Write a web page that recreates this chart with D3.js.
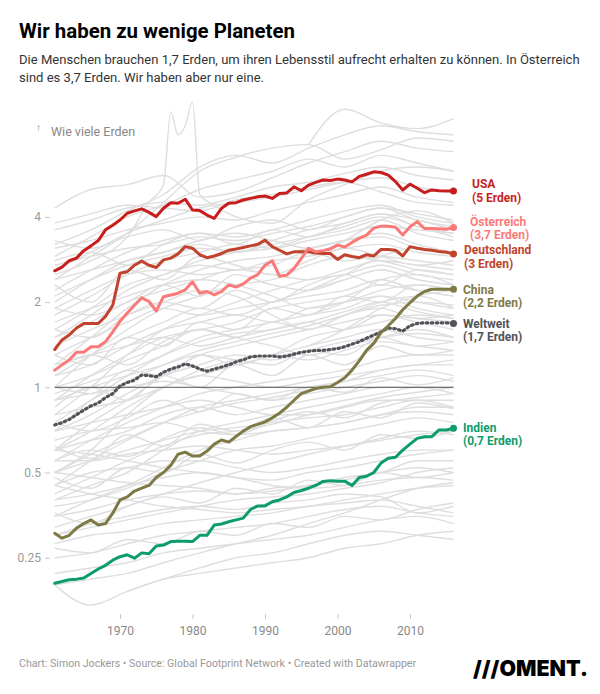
<!DOCTYPE html>
<html><head><meta charset="utf-8">
<script src="https://cdn.jsdelivr.net/npm/d3@7"></script>
<style>
html,body{margin:0;padding:0;background:#fff;}
svg{display:block;font-family:Roboto,"Noto Sans",sans-serif;}
</style></head>
<body><svg id="c" width="600" height="694"></svg>
<script>
// ---------- DATA ----------
const years = d3.range(1961, 2017);
const usa = [2.58,2.66,2.80,2.86,3.04,3.16,3.30,3.60,3.74,3.90,4.12,4.20,4.27,4.15,4.01,4.29,4.49,4.47,4.62,4.23,4.21,4.06,3.95,4.29,4.47,4.49,4.59,4.65,4.71,4.74,4.65,4.84,4.86,5.11,4.95,5.18,5.30,5.40,5.38,5.44,5.40,5.32,5.56,5.66,5.77,5.74,5.62,5.33,4.98,5.22,5.05,4.87,4.98,4.95,4.94,4.94];
const oesterreich = [1.15,1.20,1.25,1.33,1.33,1.39,1.39,1.45,1.57,1.71,1.83,1.95,2.07,2.01,1.86,2.09,2.12,2.15,2.21,2.36,2.15,2.18,2.12,2.18,2.30,2.26,2.32,2.43,2.50,2.70,2.80,2.47,2.49,2.63,2.85,3.10,3.01,3.04,3.08,3.18,3.13,3.25,3.36,3.45,3.65,3.71,3.71,3.68,3.45,3.69,3.85,3.64,3.64,3.63,3.62,3.67];
const deutschland = [1.36,1.47,1.53,1.62,1.68,1.68,1.68,1.78,1.95,2.53,2.56,2.70,2.79,2.70,2.65,2.82,2.86,2.96,3.14,3.10,2.94,2.87,2.91,2.97,3.05,3.08,3.12,3.16,3.20,3.31,3.14,3.05,2.96,3.01,3.01,3.01,2.98,2.97,2.97,2.83,2.94,2.90,2.87,2.94,2.91,3.07,3.07,3.05,2.91,3.14,3.10,3.07,3.05,3.02,3.00,2.96];
const china = [0.305,0.293,0.30,0.318,0.33,0.34,0.326,0.33,0.359,0.40,0.41,0.43,0.44,0.45,0.48,0.50,0.53,0.58,0.59,0.572,0.572,0.595,0.63,0.651,0.64,0.67,0.70,0.726,0.74,0.755,0.78,0.81,0.85,0.90,0.95,0.97,0.99,1.00,1.005,1.04,1.08,1.15,1.24,1.35,1.43,1.56,1.65,1.75,1.88,1.99,2.10,2.18,2.22,2.22,2.22,2.22];
const weltweit = [0.736,0.75,0.77,0.80,0.83,0.86,0.88,0.92,0.95,1.01,1.04,1.06,1.105,1.10,1.09,1.13,1.16,1.18,1.21,1.19,1.16,1.14,1.16,1.18,1.20,1.23,1.25,1.28,1.29,1.29,1.29,1.28,1.29,1.31,1.33,1.34,1.35,1.35,1.36,1.37,1.39,1.42,1.45,1.49,1.53,1.57,1.62,1.61,1.58,1.65,1.68,1.69,1.69,1.69,1.69,1.68];
const indien = [0.203,0.206,0.209,0.21,0.212,0.22,0.228,0.235,0.245,0.252,0.256,0.249,0.26,0.258,0.275,0.277,0.285,0.286,0.286,0.285,0.30,0.30,0.326,0.329,0.335,0.34,0.345,0.37,0.381,0.381,0.394,0.40,0.41,0.425,0.432,0.44,0.45,0.465,0.468,0.466,0.466,0.45,0.48,0.485,0.50,0.54,0.561,0.566,0.60,0.63,0.66,0.669,0.669,0.707,0.707,0.716];

const highlightNames = ["Weltweit","Indien","China","Deutschland","Österreich","USA"];
const highlightLabels = ["(1,7 Erden)","(0,7 Erden)","(2,2 Erden)","(3 Erden)","(3,7 Erden)","(5 Erden)"];

// other countries, sampled every 5 years
const grayYears = [1961,1966,1971,1976,1981,1986,1991,1996,2001,2006,2011,2016];
const grayCountries = [
[4.3,5.0,5.2,5.6,4.7,4.9,5.5,6.2,6.8,7.4,7.0,6.8],
[null,null,null,null,null,null,null,7.2,9.6,8.6,8.2,8.9],
[3.2,3.6,4.2,4.8,6.0,6.6,6.2,7.0,7.8,8.4,8.0,7.8],
[2.9,3.4,4.0,4.4,5.0,5.4,5.8,6.4,6.0,6.6,6.2,5.8],
[3.6,3.9,4.3,4.5,4.4,4.7,5.1,5.3,5.7,6.0,5.6,5.4],
[2.6,3.0,3.5,3.9,4.3,4.5,4.7,5.0,5.3,5.5,5.1,4.9],
[3.8,4.1,4.4,4.3,4.2,4.6,4.8,5.1,5.3,4.9,4.5,4.4],
[2.2,2.6,3.0,3.3,3.5,3.4,3.6,3.9,4.2,4.4,4.0,3.8],
[2.0,2.4,2.8,3.0,3.2,3.0,3.2,3.4,3.6,3.9,3.5,3.3],
[2.7,2.9,3.1,3.2,3.4,3.3,3.5,3.7,4.0,4.3,3.9,3.7],
[1.8,2.1,2.5,2.8,3.0,3.2,3.1,3.3,3.5,3.7,3.6,3.5],
[2.4,2.6,2.8,3.0,3.3,3.5,3.3,3.1,3.3,3.4,3.1,3.0],
[1.5,1.8,2.2,2.5,2.8,3.0,3.1,3.4,3.7,4.0,3.7,3.4],
[1.2,1.5,1.9,2.3,2.6,2.8,2.9,3.1,3.3,3.5,3.2,3.0],
[null,null,null,null,null,null,null,2.9,3.3,3.9,4.2,3.8],
[1.6,1.9,2.3,2.5,2.7,2.6,2.8,2.9,3.1,3.2,3.0,2.9],
[1.9,2.2,2.5,2.6,2.5,2.6,2.7,3.0,2.8,2.9,2.8,2.7],
[1.0,1.3,1.6,1.9,2.1,2.3,2.4,2.7,2.9,2.8,2.6,2.5],
[1.1,1.3,1.5,1.7,1.9,1.8,2.0,2.2,2.4,2.6,2.4,2.3],
[0.8,1.0,1.3,1.6,1.8,2.0,2.2,2.4,2.5,2.7,2.5,2.4],
[1.3,1.5,1.7,1.9,1.8,1.9,2.0,2.1,2.2,2.4,2.2,2.1],
[0.9,1.1,1.3,1.5,1.6,1.7,1.9,2.0,2.1,2.3,2.2,2.1],
[1.4,1.6,1.8,2.0,2.2,2.1,1.8,1.6,1.8,2.0,2.1,1.9],
[0.7,0.9,1.1,1.3,1.5,1.6,1.7,1.8,1.9,2.1,2.0,1.9],
[null,null,null,null,null,null,null,1.4,1.6,1.9,2.1,2.2],
[null,null,null,null,null,null,null,1.8,2.0,2.4,2.5,2.3],
[1.2,1.3,1.4,1.5,1.4,1.5,1.6,1.7,1.6,1.8,1.7,1.6],
[0.6,0.75,0.9,1.1,1.3,1.4,1.5,1.6,1.7,1.8,1.75,1.7],
[0.9,1.0,1.1,1.2,1.3,1.2,1.3,1.4,1.5,1.6,1.5,1.45],
[0.5,0.6,0.8,1.0,1.1,1.2,1.3,1.5,1.6,1.7,1.8,1.75],
[1.0,1.1,1.25,1.4,1.6,1.5,1.4,1.3,1.4,1.5,1.6,1.5],
[0.7,0.8,0.95,1.1,1.2,1.3,1.25,1.35,1.45,1.5,1.55,1.5],
[0.55,0.65,0.75,0.85,0.95,1.0,1.05,1.1,1.15,1.25,1.3,1.3],
[0.8,0.85,0.9,1.0,1.1,1.05,1.0,1.05,1.1,1.15,1.2,1.2],
[0.45,0.55,0.65,0.75,0.85,0.9,0.95,1.0,1.05,1.1,1.15,1.1],
[0.9,0.95,1.0,1.05,1.0,0.95,0.9,0.95,1.0,1.05,1.1,1.05],
[0.6,0.65,0.7,0.8,0.85,0.8,0.85,0.9,0.95,1.0,1.0,0.95],
[0.4,0.45,0.5,0.6,0.7,0.75,0.8,0.85,0.9,0.95,1.0,1.0],
[0.7,0.75,0.8,0.85,0.9,0.85,0.8,0.8,0.85,0.9,0.9,0.85],
[0.5,0.55,0.6,0.65,0.7,0.72,0.75,0.78,0.8,0.85,0.9,0.9],
[0.65,0.7,0.72,0.75,0.7,0.68,0.7,0.72,0.75,0.8,0.82,0.8],
[0.35,0.4,0.45,0.52,0.6,0.65,0.7,0.72,0.75,0.8,0.85,0.85],
[0.55,0.55,0.58,0.6,0.62,0.6,0.58,0.6,0.62,0.65,0.68,0.7],
[0.45,0.5,0.52,0.55,0.55,0.52,0.5,0.52,0.55,0.58,0.6,0.6],
[0.4,0.42,0.45,0.48,0.5,0.48,0.47,0.5,0.52,0.55,0.58,0.6],
[0.5,0.48,0.46,0.45,0.44,0.42,0.43,0.45,0.47,0.5,0.52,0.5],
[0.35,0.37,0.4,0.42,0.43,0.42,0.44,0.45,0.48,0.5,0.55,0.55],
[0.6,0.58,0.55,0.52,0.5,0.48,0.45,0.44,0.45,0.47,0.48,0.47],
[0.3,0.32,0.34,0.36,0.38,0.4,0.41,0.42,0.44,0.46,0.5,0.52],
[0.45,0.42,0.4,0.38,0.37,0.36,0.37,0.38,0.4,0.42,0.44,0.45],
[0.28,0.3,0.31,0.33,0.34,0.35,0.36,0.38,0.39,0.4,0.38,0.36],
[0.25,0.26,0.28,0.3,0.31,0.32,0.33,0.35,0.37,0.38,0.36,0.35],
[0.2,0.17,0.19,0.21,0.23,0.25,0.26,0.28,0.3,0.31,0.3,0.29],
[null,null,0.19,0.21,0.22,0.23,0.24,0.25,0.27,0.28,0.3,0.31],
[0.22,0.23,0.24,0.26,0.27,0.28,0.29,0.3,0.32,0.34,0.35,0.33],
[0.3,0.33,0.35,0.37,0.38,0.37,0.39,0.4,0.42,0.41,0.36,0.38],
[0.2,0.21,0.22,0.24,0.26,0.28,0.3,0.33,0.36,0.4,0.44,0.46],
[1.7,1.9,2.1,2.3,2.4,2.3,2.1,1.9,2.0,2.2,2.3,2.2],
[1.1,1.2,1.4,1.6,1.7,1.8,1.7,1.9,2.0,2.1,1.9,1.8],
[0.75,0.9,1.05,1.2,1.35,1.45,1.55,1.65,1.8,1.95,2.0,1.95],
[1.5,1.7,2.0,2.2,2.4,2.6,2.5,2.4,2.6,2.8,2.7,2.6],
[0.6,0.7,0.85,1.0,1.15,1.25,1.3,1.25,1.35,1.45,1.4,1.35],
[0.95,1.05,1.15,1.3,1.45,1.55,1.6,1.7,1.85,2.0,1.85,1.75],
[0.5,0.58,0.66,0.75,0.82,0.88,0.92,0.98,1.05,1.15,1.2,1.25],
[0.42,0.48,0.55,0.62,0.68,0.7,0.74,0.8,0.86,0.92,0.96,1.0],
[0.38,0.4,0.44,0.5,0.55,0.6,0.62,0.66,0.7,0.74,0.78,0.75],
[0.32,0.35,0.38,0.42,0.46,0.5,0.54,0.58,0.62,0.66,0.7,0.68],
[2.1,2.4,2.7,2.9,3.1,3.0,3.3,3.6,3.8,4.1,3.9,3.6],
[null,null,null,null,null,null,null,2.2,2.5,2.9,3.1,3.0],
[3.1,3.3,3.6,3.8,4.0,3.9,4.2,4.5,4.8,5.1,4.7,4.5],
[2.4,2.9,3.5,4.5,5.8,6.5,7.0,7.2,6.4,6.9,7.6,7.4],
[1.3,1.2,1.5,1.4,1.7,1.6,1.9,1.8,2.1,2.0,2.3,2.2],
[0.85,1.0,0.9,1.1,1.0,1.2,1.1,1.3,1.2,1.4,1.3,1.35],
[2.3,2.0,2.6,2.4,2.9,2.7,2.5,2.8,3.1,2.9,2.7,2.8],
[0.62,0.56,0.68,0.62,0.74,0.7,0.78,0.72,0.82,0.78,0.88,0.84],
[1.6,1.5,1.8,2.0,1.9,2.2,2.0,2.3,2.5,2.3,2.6,2.5],
[0.48,0.44,0.52,0.5,0.58,0.54,0.6,0.64,0.6,0.68,0.66,0.7],
[1.0,0.95,1.15,1.1,1.3,1.25,1.2,1.35,1.3,1.5,1.4,1.45],
[3.3,3.1,3.4,3.6,3.3,3.7,3.9,3.6,4.0,4.3,4.1,3.9],
[0.36,0.33,0.38,0.41,0.39,0.44,0.42,0.47,0.45,0.5,0.48,0.5],
[0.75,0.7,0.78,0.9,0.82,0.95,0.9,1.0,0.96,1.08,1.02,1.08],
[1.9,1.8,2.0,2.3,2.1,2.5,2.3,2.2,2.4,2.6,2.4,2.3],
[0.27,0.26,0.29,0.28,0.31,0.3,0.33,0.32,0.35,0.34,0.37,0.39],
[2.8,3.0,2.7,3.2,3.5,3.2,3.6,3.4,3.8,4.1,3.7,3.5],
[0.55,0.6,0.57,0.66,0.72,0.68,0.76,0.82,0.78,0.88,0.92,0.95],
[1.15,1.3,1.2,1.45,1.6,1.5,1.7,1.6,1.8,1.9,1.75,1.8]
];
// one oil-exporter line with a spike around 1977-1980
const spikeYears = [1961,1966,1971,1974,1976,1977,1978,1979,1980,1981,1983,1986,1991,1996,2001,2006,2011,2016];
const spikeValues = [2.5,2.8,3.4,4.5,5.2,9.4,7.8,8.4,10.2,4.8,4.4,4.0,3.8,4.6,5.2,5.8,6.0,5.8];

const yTicks = [4,2,1,0.5,0.25];
const yTickLabels = ["4","2","1","0.5","0.25"];
const xTicks = [1970,1980,1990,2000,2010];

// ---------- STYLE / LAYOUT ----------
const colors = {"USA":"#c71e1d","Österreich":"#fa7a7a","Deutschland":"#c1432d","China":"#7f7a45","Weltweit":"#505358","Indien":"#0d9c6b"};
const labelPos = {"USA":[472,-7],"Österreich":[470,-6],"Deutschland":[464,-4],"China":[463,0],"Weltweit":[463,0],"Indien":[463,-1]};

const svg = d3.select("#c");
const x = d3.scaleLinear().domain([1961,2016]).range([54.75,453.5]);
const y = d3.scaleLog().domain([0.125,8]).range([642.9,131.7]);

function fit(sel, target){
  const w = sel.node().getComputedTextLength();
  const fs = parseFloat(sel.attr("font-size"));
  sel.attr("font-size", (fs*target/w).toFixed(2));
}

// header
fit(svg.append("text").attr("x",19).attr("y",37.5).attr("font-size",20).attr("font-weight",700).attr("fill","#000")
  .text("Wir haben zu wenige Planeten"), 276);
const sub1 = svg.append("text").attr("x",19).attr("y",64).attr("font-size",14).attr("fill","#333")
  .text("Die Menschen brauchen 1,7 Erden, um ihren Lebensstil aufrecht erhalten zu können. In Österreich");
fit(sub1, 561);
svg.append("text").attr("x",19).attr("y",81.5).attr("font-size",sub1.attr("font-size")).attr("fill","#333")
  .text("sind es 3,7 Erden. Wir haben aber nur eine.");

// gray lines
const grayLine = d3.line().defined(d=>d[1]!=null).x(d=>x(d[0])).y(d=>y(d[1])).curve(d3.curveMonotoneX);
const gG = svg.append("g");
grayCountries.forEach(vals=>{
  gG.append("path").attr("d", grayLine(grayYears.map((yr,i)=>[yr,vals[i]])))
    .attr("fill","none").attr("stroke","#dedede").attr("stroke-width",1.4);
});
gG.append("path").attr("d", grayLine(spikeYears.map((yr,i)=>[yr,spikeValues[i]])))
  .attr("fill","none").attr("stroke","#dedede").attr("stroke-width",1.4);

// y axis
const yAxis = d3.axisLeft(y).tickValues(yTicks).tickFormat((d,i)=>yTickLabels[i]).tickSize(5).tickPadding(4);
const ya = svg.append("g").attr("transform","translate(50,0)").call(yAxis);
ya.select(".domain").remove();
ya.selectAll("line").attr("stroke","#c8c8c8");
ya.selectAll("text").attr("fill","#999").attr("font-size",12).attr("font-family","Roboto");

// x axis
const xAxis = d3.axisBottom(x).tickValues(xTicks).tickFormat(d3.format("d")).tickSize(5).tickPadding(7);
const xa = svg.append("g").attr("transform","translate(0,614)").call(xAxis);
xa.select(".domain").remove();
xa.selectAll("line").attr("stroke","#c8c8c8");
xa.selectAll("text").attr("fill","#888").attr("font-size",12).attr("font-family","Roboto");

// baseline at 1
svg.append("line").attr("x1",x(1961)).attr("x2",x(2016)).attr("y1",y(1)).attr("y2",y(1))
  .attr("stroke","#555").attr("stroke-width",1);

// axis title
svg.append("text").attr("x",36).attr("y",131).attr("font-size",10).attr("fill","#888").text("↑");
svg.append("text").attr("x",51).attr("y",136).attr("font-size",12.5).attr("fill","#888").text("Wie viele Erden");

// highlighted lines
const series = {"USA":usa,"Österreich":oesterreich,"Deutschland":deutschland,"China":china,"Weltweit":weltweit,"Indien":indien};
const hLine = d3.line().x((d,i)=>x(years[i])).y(d=>y(d));
highlightNames.forEach((name,k)=>{
  const vals = series[name];
  const p = svg.append("path").attr("d",hLine(vals)).attr("fill","none").attr("stroke",colors[name])
    .attr("stroke-width",3).attr("stroke-linejoin","round").attr("stroke-linecap","round");
  if(name==="Weltweit") p.attr("stroke-dasharray","1.6,3.4").attr("stroke-width",3.2);
  const last = vals[vals.length-1];
  svg.append("circle").attr("cx",x(2016)).attr("cy",y(last)).attr("r",3.5).attr("fill",colors[name]);
  const lp = labelPos[name];
  const t = svg.append("text").attr("x",lp[0]).attr("y",y(last)+lp[1]+4.3).attr("font-size",12)
    .attr("font-weight",700).attr("fill",colors[name]);
  t.append("tspan").attr("x",lp[0]).text(name);
  t.append("tspan").attr("x",lp[0]).attr("dy",13.5).text(highlightLabels[k]);
});

// footer
fit(svg.append("text").attr("x",19).attr("y",667).attr("font-size",11).attr("fill","#999")
  .text("Chart: Simon Jockers • Source: Global Footprint Network • Created with Datawrapper"), 397);
const logo = svg.append("text").attr("x",473).attr("y",676).attr("font-size",18).attr("font-weight",900)
  .attr("font-family","Inter, Roboto, sans-serif").attr("fill","#000").text("///OMENT.");
fit(logo, 115);
</script></body></html>
